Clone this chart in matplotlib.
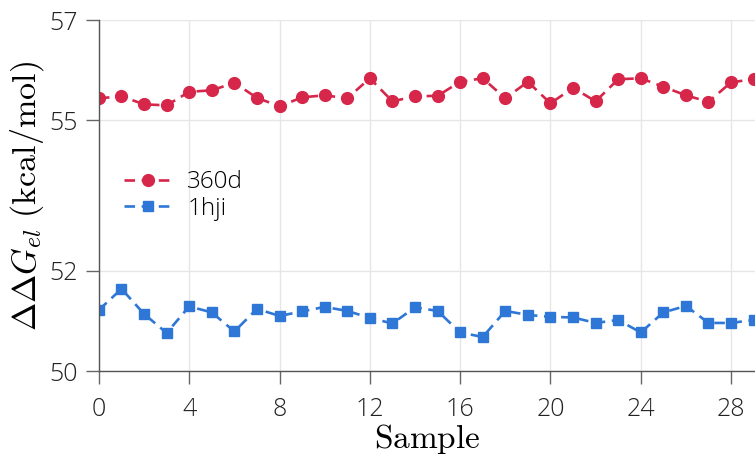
import numpy as np
import matplotlib.pyplot as plt

plt.rcParams['mathtext.fontset'] = 'cm'
plt.rcParams['font.family'] = ['Open Sans', 'DejaVu Sans']

sample = np.arange(30)
dg_360d = [55.44, 55.48, 55.32, 55.30, 55.57, 55.60, 55.75, 55.45, 55.28, 55.46,
           55.50, 55.44, 55.84, 55.38, 55.48, 55.49, 55.77, 55.84, 55.44, 55.77,
           55.34, 55.65, 55.38, 55.82, 55.84, 55.67, 55.50, 55.37, 55.76, 55.82]
dg_1hji = [51.22, 51.64, 51.14, 50.76, 51.29, 51.17, 50.79, 51.24, 51.10, 51.19,
           51.28, 51.20, 51.06, 50.95, 51.27, 51.20, 50.77, 50.68, 51.20, 51.12,
           51.08, 51.07, 50.96, 51.02, 50.77, 51.17, 51.30, 50.96, 50.96, 51.02]
yticks = [50, 52, 55, 57]
xticks = np.arange(0, 29, 4)

fig = plt.figure(figsize=(7.55, 4.57), dpi=100)
ax = fig.add_axes([0.131, 0.188, 0.869, 0.768])

ax.plot(sample, dg_360d, ls='--', dashes=(4, 2.5), lw=1.9, color='#d6264a',
        marker='o', ms=8.5, label='360d')
ax.plot(sample, dg_1hji, ls='--', dashes=(4, 2.5), lw=1.9, color='#2e77d6',
        marker='s', ms=7, label='1hji')

ax.set_xlim(0, 29.06)
ax.set_ylim(50, 57)
ax.set_xticks(xticks)
ax.set_yticks(yticks)
ax.grid(True, color='#e6e6e6', lw=1)
ax.set_axisbelow(True)
for s in ['top', 'right']:
    ax.spines[s].set_visible(False)
for s in ['left', 'bottom']:
    ax.spines[s].set_color('#555555')
    ax.spines[s].set_linewidth(1)
ax.tick_params(direction='out', length=9.5, width=1, color='#666666',
               labelsize=18, labelcolor='#222222')
ax.tick_params(axis='x', pad=9)
ax.tick_params(axis='y', pad=6)
for lab in ax.get_xticklabels() + ax.get_yticklabels():
    lab.set_fontweight('light')

ax.set_xlabel(r'$\mathrm{Sample}$', fontsize=24, labelpad=0)
ax.set_ylabel(r'$\Delta\Delta G_{el}\ \mathrm{(kcal/mol)}$', fontsize=24.5, labelpad=2)

leg = ax.legend(loc='center left', bbox_to_anchor=(0.005, 0.5), frameon=False,
                handlelength=2.0, handletextpad=0.6, labelspacing=0.1,
                prop={'size': 17.5, 'weight': 'light'})

fig.savefig('out.png', dpi=100)
